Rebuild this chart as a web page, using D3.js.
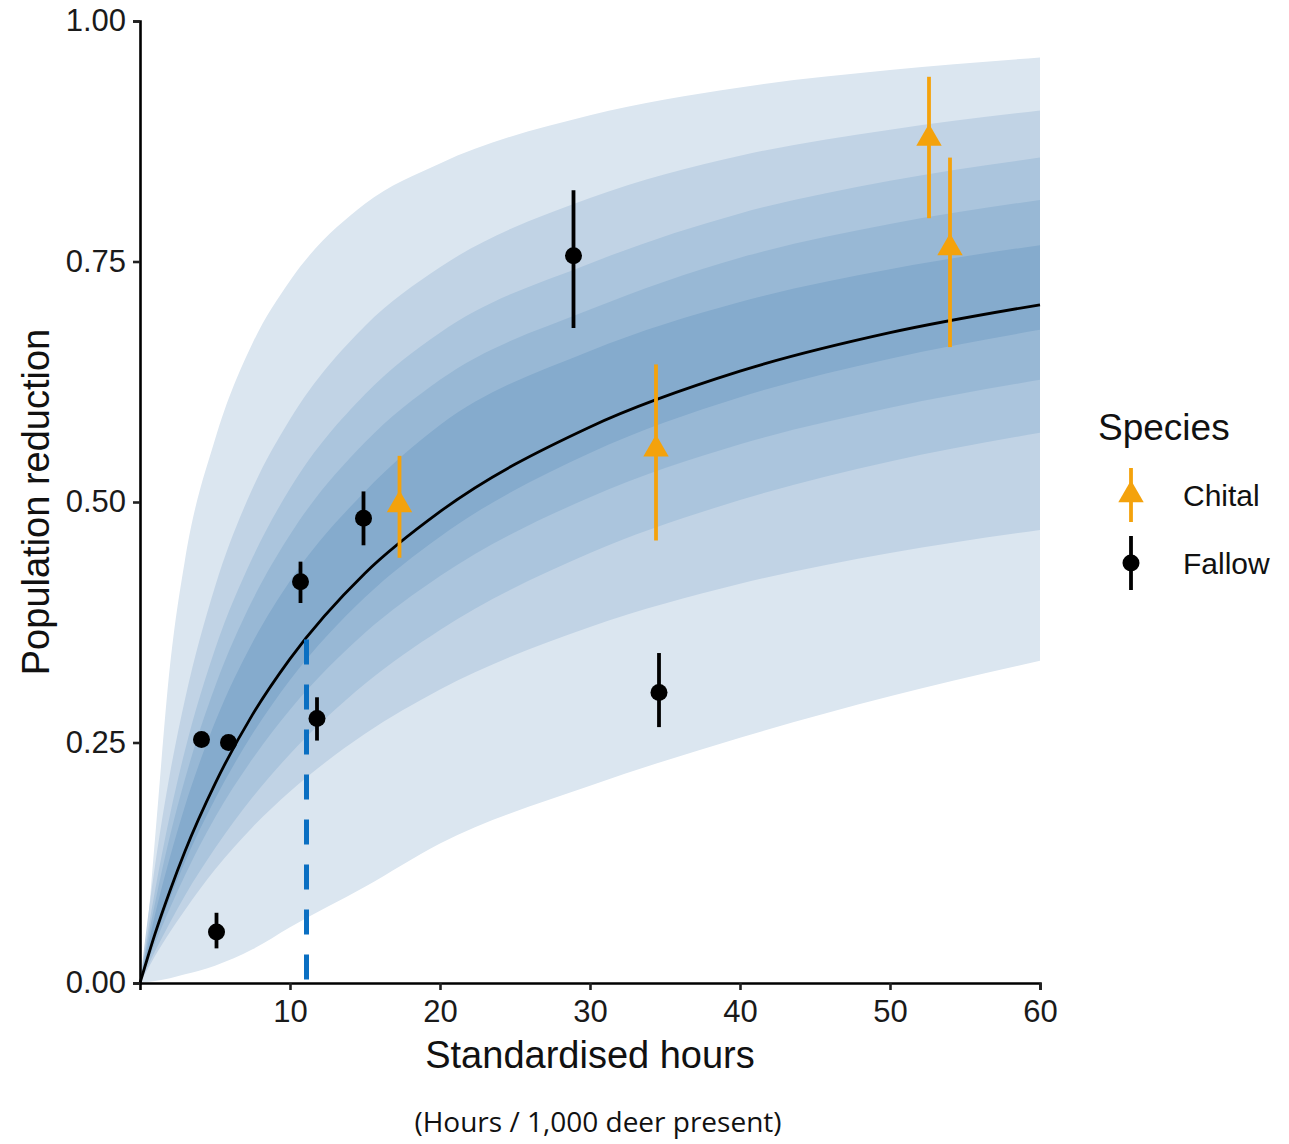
<!DOCTYPE html>
<html><head><meta charset="utf-8">
<script src="https://cdn.jsdelivr.net/npm/d3@7"></script>
<style>body{margin:0;background:#fff}svg{display:block}</style>
</head><body>
<svg id="c" width="1289" height="1144"></svg>
<script>
// ---- data ----
const xGrid   = [0, 0.5, 1, 2, 3, 5, 7.5, 10, 15, 20, 30, 40, 50, 60];
const fitLine = [0, 0.026, 0.051, 0.096, 0.137, 0.207, 0.279, 0.337, 0.426, 0.490, 0.578, 0.636, 0.676, 0.705];
// credible bands, outer -> inner
const upper1 = [0, 0.06, 0.15, 0.33, 0.44, 0.565, 0.665, 0.730, 0.810, 0.852, 0.902, 0.931, 0.949, 0.962];
const lower1 = [0, 0.001, 0.002, 0.005, 0.009, 0.018, 0.035, 0.058, 0.100, 0.145, 0.205, 0.255, 0.298, 0.335];
const upper2 = [0, 0.065, 0.122, 0.218, 0.295, 0.412, 0.514, 0.586, 0.683, 0.744, 0.816, 0.860, 0.887, 0.907];
const lower2 = [0, 0.014, 0.028, 0.053, 0.076, 0.118, 0.162, 0.199, 0.259, 0.305, 0.370, 0.415, 0.447, 0.471];
const upper3 = [0, 0.051, 0.096, 0.175, 0.242, 0.347, 0.442, 0.514, 0.612, 0.676, 0.748, 0.800, 0.834, 0.858];
const lower3 = [0, 0.017, 0.033, 0.063, 0.091, 0.140, 0.193, 0.238, 0.311, 0.367, 0.447, 0.502, 0.542, 0.572];
const upper4 = [0, 0.044, 0.083, 0.153, 0.212, 0.308, 0.398, 0.466, 0.562, 0.627, 0.700, 0.754, 0.789, 0.814];
const lower4 = [0, 0.021, 0.041, 0.078, 0.112, 0.172, 0.233, 0.284, 0.364, 0.423, 0.505, 0.560, 0.598, 0.627];
const upper5 = [0, 0.037, 0.071, 0.131, 0.184, 0.271, 0.354, 0.418, 0.511, 0.580, 0.657, 0.708, 0.742, 0.767];
const lower5 = [0, 0.024, 0.046, 0.088, 0.126, 0.191, 0.259, 0.315, 0.401, 0.464, 0.551, 0.609, 0.649, 0.679];
const bandColors = ["#dbe6f0", "#c1d3e5", "#abc5dd", "#98b8d5", "#85abcd"];

const species = ["Chital", "Fallow"];
const speciesColors = ["#f4a20c", "#000000"];

const fallowX   = [4.1, 5.9, 5.1, 10.7, 11.8, 14.9, 28.9, 34.6];
const fallowY   = [0.253, 0.250, 0.053, 0.417, 0.275, 0.483, 0.756, 0.302];
const fallowLo  = [0.253, 0.250, 0.036, 0.395, 0.252, 0.455, 0.681, 0.266];
const fallowHi  = [0.253, 0.250, 0.073, 0.438, 0.297, 0.511, 0.824, 0.343];

const chitalX   = [17.3, 34.4, 52.6, 54.0];
const chitalY   = [0.497, 0.555, 0.878, 0.764];
const chitalLo  = [0.442, 0.460, 0.795, 0.661];
const chitalHi  = [0.548, 0.643, 0.942, 0.858];

const thresholdX = 11.1;
const thresholdY = 0.357;
const xTicks = [10, 20, 30, 40, 50, 60];
const yTicks = [0, 0.25, 0.5, 0.75, 1.0];

// ---- drawing ----
const svg = d3.select("#c");
const x = d3.scaleLinear().domain([0, 60]).range([140, 1040]);
const y = d3.scaleLinear().domain([0, 1]).range([983, 21]);
const FONT = "'Liberation Sans', Arial, sans-serif";

const uppers = [upper1, upper2, upper3, upper4, upper5];
const lowers = [lower1, lower2, lower3, lower4, lower5];
const area = d3.area().x(d => x(d.x)).y0(d => y(d.lo)).y1(d => y(d.hi)).curve(d3.curveMonotoneX);
uppers.forEach((u, i) => {
  const pts = xGrid.map((xv, j) => ({x: xv, lo: lowers[i][j], hi: u[j]}));
  svg.append("path").attr("d", area(pts)).attr("fill", bandColors[i]);
});

const line = d3.line().x(d => x(d.x)).y(d => y(d.y)).curve(d3.curveMonotoneX);
svg.append("path").attr("d", line(xGrid.map((xv, j) => ({x: xv, y: fitLine[j]}))))
  .attr("fill", "none").attr("stroke", "#000").attr("stroke-width", 2.8);

// threshold dashed line
svg.append("line")
  .attr("x1", x(thresholdX)).attr("x2", x(thresholdX))
  .attr("y1", y(thresholdY)).attr("y2", y(0))
  .attr("stroke", "#0a6fc2").attr("stroke-width", 5).attr("stroke-dasharray", "25,20");

// axes
const xAxis = d3.axisBottom(x).tickValues(xTicks).tickSize(7).tickPadding(10).tickFormat(d3.format("d"));
const gx = svg.append("g").attr("transform", "translate(0,983)").call(xAxis);
const yAxis = d3.axisLeft(y).tickValues(yTicks).tickSize(7).tickPadding(7).tickFormat(d3.format(".2f"));
const gy = svg.append("g").attr("transform", "translate(140,0)").call(yAxis);
[gx, gy].forEach(g => {
  g.select(".domain").attr("stroke", "#000").attr("stroke-width", 2.6);
  g.selectAll(".tick line").attr("stroke", "#222").attr("stroke-width", 2.6);
  g.selectAll(".tick text").attr("fill", "#1a1a1a").style("font-family", FONT).style("font-size", "31px");
});
gx.selectAll(".tick text").attr("dy", "0.71em");

// points
const fallowData = fallowX.map((v, i) => ({x: v, y: fallowY[i], lo: fallowLo[i], hi: fallowHi[i]}));
const chitalData = chitalX.map((v, i) => ({x: v, y: chitalY[i], lo: chitalLo[i], hi: chitalHi[i]}));

svg.append("g").selectAll("line").data(fallowData.filter(d => d.hi > d.lo)).join("line")
  .attr("x1", d => x(d.x)).attr("x2", d => x(d.x)).attr("y1", d => y(d.lo)).attr("y2", d => y(d.hi))
  .attr("stroke", speciesColors[1]).attr("stroke-width", 3.8);
svg.append("g").selectAll("circle").data(fallowData).join("circle")
  .attr("cx", d => x(d.x)).attr("cy", d => y(d.y)).attr("r", 8.5).attr("fill", speciesColors[1]);

svg.append("g").selectAll("line").data(chitalData).join("line")
  .attr("x1", d => x(d.x)).attr("x2", d => x(d.x)).attr("y1", d => y(d.lo)).attr("y2", d => y(d.hi))
  .attr("stroke", speciesColors[0]).attr("stroke-width", 3.8);
const tri = d3.symbol().type(d3.symbolTriangle).size(280);
svg.append("g").selectAll("path").data(chitalData).join("path")
  .attr("d", tri).attr("transform", d => `translate(${x(d.x)},${y(d.y)})`).attr("fill", speciesColors[0]);

// axis titles
svg.append("text").attr("x", 590).attr("y", 1068).attr("text-anchor", "middle")
  .style("font-family", FONT).style("font-size", "38px").attr("fill", "#111").text("Standardised hours");
svg.append("text").attr("transform", "translate(49,502) rotate(-90)").attr("text-anchor", "middle")
  .style("font-family", FONT).style("font-size", "38px").attr("fill", "#111").text("Population reduction");
svg.append("text").attr("x", 598).attr("y", 1132).attr("text-anchor", "middle")
  .style("font-family", "'Open Sans', sans-serif").style("font-size", "28px").attr("fill", "#111")
  .text("(Hours / 1,000 deer present)");

// legend
const lg = svg.append("g");
lg.append("text").attr("x", 1098).attr("y", 440).style("font-family", FONT).style("font-size", "37px")
  .attr("fill", "#111").text("Species");
const keyY = [495, 563];
species.forEach((s, i) => {
  const cx = 1131, cy = keyY[i];
  lg.append("line").attr("x1", cx).attr("x2", cx).attr("y1", cy - 27).attr("y2", cy + 27)
    .attr("stroke", speciesColors[i]).attr("stroke-width", 3.8);
  if (i === 0) lg.append("path").attr("d", tri).attr("transform", `translate(${cx},${cy})`).attr("fill", speciesColors[i]);
  else lg.append("circle").attr("cx", cx).attr("cy", cy).attr("r", 8.5).attr("fill", speciesColors[i]);
  lg.append("text").attr("x", 1183).attr("y", cy).attr("dy", "0.36em").style("font-family", FONT)
    .style("font-size", "30px").attr("fill", "#111").text(s);
});
</script>
</body></html>
